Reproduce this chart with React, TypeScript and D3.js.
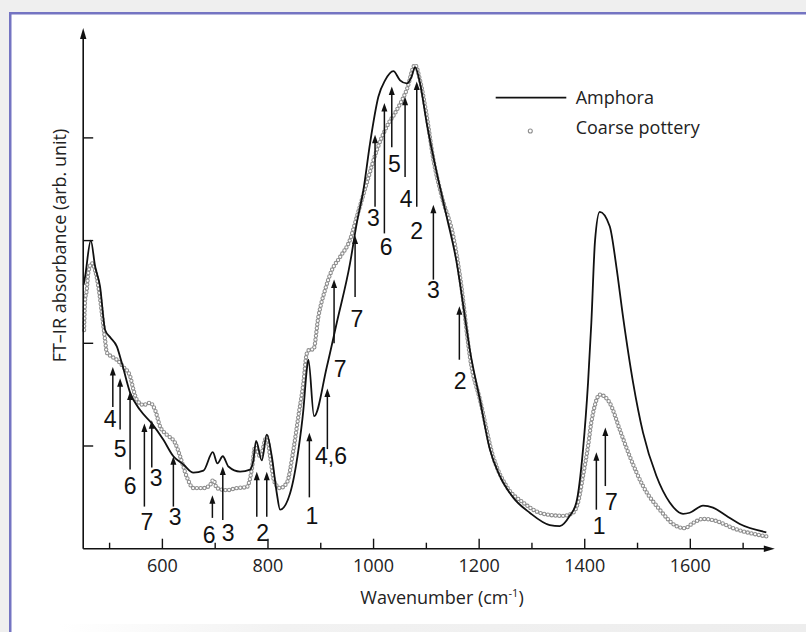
import * as d3 from "d3";

// FT-IR spectra (wavenumber in cm-1, absorbance in arb. units)
const amphoraWavenumber = [
  450.8, 453.6, 464.4, 472.5, 482.0, 491.5, 500.9, 513.6, 523.1, 538.8, 557.8, 579.9, 601.9, 620.8,
  639.8, 658.7, 677.7, 695.5, 704.2, 714.4, 725.0, 747.2, 766.1, 772.3, 777.5, 788.3, 797.7, 807.2,
  816.7, 822.9, 841.9, 857.6, 867.0, 873.5, 876.5, 887.3, 911.4, 930.3, 955.5, 968.2, 980.7, 993.4,
  1009.1, 1021.8, 1037.5, 1050.2, 1062.9, 1072.3, 1078.6, 1088.1, 1100.8, 1119.7, 1138.6, 1157.6,
  1163.8, 1172.7, 1182.2, 1201.1, 1220.1, 1239.0, 1264.2, 1295.8, 1333.7, 1352.7, 1371.6, 1384.1,
  1396.8, 1406.3, 1412.5, 1419.5, 1428.4, 1447.3, 1459.8, 1472.5, 1491.5, 1510.4, 1535.6, 1561.0,
  1586.2, 1598.9, 1624.1, 1643.0, 1668.2, 1693.6, 1743.9,
];
const amphoraAbsorbance = [
  2.57, 2.65, 3.0, 2.75, 2.55, 2.13, 2.06, 1.97, 1.81, 1.52, 1.35, 1.22, 1.06, 0.9,
  0.82, 0.74, 0.76, 0.94, 0.83, 0.9, 0.8, 0.75, 0.77, 0.86, 1.05, 0.86, 1.11, 0.9,
  0.54, 0.38, 0.54, 0.96, 1.35, 1.74, 1.84, 1.29, 1.77, 2.2, 2.78, 3.17, 3.49, 3.95,
  4.4, 4.56, 4.65, 4.56, 4.53, 4.6, 4.69, 4.53, 4.14, 3.66, 3.23, 2.78,
  2.58, 2.27, 1.94, 1.46, 0.97, 0.71, 0.5, 0.35, 0.23, 0.22, 0.32, 0.45,
  0.97, 1.62, 2.2, 3.0, 3.28, 3.14, 2.75, 2.26, 1.62, 1.13, 0.71, 0.45,
  0.34, 0.35, 0.42, 0.4, 0.32, 0.24, 0.16,
];

const coarseWavenumber = [
  451.7, 453.6, 456.8, 459.8, 466.3, 472.5, 478.8, 485.2, 491.5, 494.7, 504.2, 513.6, 526.1, 538.8,
  545.1, 551.5, 564.0, 576.7, 586.2, 595.6, 608.3, 624.1, 633.5, 646.2, 658.7, 677.7, 690.3, 696.6,
  703.0, 722.0, 740.9, 759.8, 769.3, 775.6, 785.0, 797.7, 804.0, 811.6, 822.9, 835.6, 848.1, 857.6,
  867.0, 873.5, 879.7, 886.0, 895.5, 908.1, 920.8, 936.6, 955.5, 968.2, 987.1, 1006.1, 1025.0,
  1043.9, 1062.9, 1078.6, 1088.1, 1100.8, 1113.3, 1129.2, 1151.1, 1163.8, 1185.2, 1201.1, 1226.3,
  1251.5, 1283.1, 1321.0, 1358.9, 1377.8, 1387.3, 1396.8, 1406.3, 1412.5, 1418.9, 1428.4, 1447.3,
  1466.3, 1485.2, 1510.4, 1542.0, 1573.5, 1589.4, 1605.1, 1624.1, 1649.2, 1680.9, 1743.9,
];
const coarseAbsorbance = [
  2.13, 2.42, 2.52, 2.69, 2.78, 2.71, 2.55, 2.3, 2.03, 1.91, 1.87, 1.84, 1.77, 1.68,
  1.55, 1.45, 1.4, 1.42, 1.35, 1.19, 1.11, 1.03, 0.9, 0.7, 0.59, 0.59, 0.62, 0.67,
  0.59, 0.57, 0.59, 0.6, 0.77, 0.99, 0.9, 1.09, 0.9, 0.66, 0.59, 0.64, 0.96, 1.29,
  1.61, 1.9, 1.94, 1.94, 2.26, 2.52, 2.71, 2.84, 3.01, 3.23, 3.56, 3.88, 4.11,
  4.27, 4.47, 4.71, 4.56, 4.21, 3.79, 3.43, 3.04, 2.65, 1.78, 1.46, 0.9,
  0.61, 0.45, 0.34, 0.32, 0.35, 0.45, 0.71, 1.0, 1.23, 1.39, 1.5, 1.42,
  1.16, 0.9, 0.61, 0.38, 0.22, 0.2, 0.25, 0.29, 0.27, 0.2, 0.12,
];

const xMajorTicks = [600, 800, 1000, 1200, 1400, 1600];
const xMinorTicks = [500, 700, 900, 1100, 1300, 1500, 1700];
const yTicks = [1, 2, 3, 4];

// band assignment arrows
const bandLabels = ["4", "5", "6", "7", "3", "3", "6", "3", "", "2", "1", "4,6", "7", "7", "3", "6", "5", "4", "2", "3", "2", "1", "7"];
const bandWavenumber = [506.1, 519.9, 538.8, 565.9, 579.9, 620.8, 694.7, 714.4, 778.8, 797.7, 878.4, 912.5, 925.2, 965.0, 1002.8, 1020.5, 1034.5, 1059.7, 1081.8, 1113.3, 1162.5, 1422.0, 1439.0];
const bandTop = [1.77, 1.66, 1.53, 1.22, 1.25, 0.9, 0.52, 0.8, 0.75, 0.75, 1.13, 1.56, 2.62, 3.05, 4.03, 4.34, 4.5, 4.4, 4.55, 3.35, 2.36, 0.94, 1.18];
const bandBottom = [1.38, 1.16, 0.77, 0.41, 0.79, 0.41, 0.3, 0.28, 0.31, 0.31, 0.5, 0.97, 2.0, 2.45, 3.33, 3.07, 3.91, 3.62, 3.33, 2.62, 1.84, 0.38, 0.61];
const bandLabelWavenumber = [500.9, 519.9, 538.8, 570.5, 588.1, 624.1, 688.4, 724.4, 0, 789.8, 883.0, 919.5, 936.6, 968.2, 999.6, 1023.7, 1039.4, 1061.6, 1081.8, 1113.3, 1163.8, 1427.1, 1450.4];
const bandLabelLevel = [1.27, 0.97, 0.61, 0.26, 0.69, 0.31, 0.14, 0.16, 0, 0.16, 0.32, 0.91, 1.75, 2.24, 3.22, 2.94, 3.75, 3.41, 3.1, 2.52, 1.64, 0.22, 0.46];

const W = 806;
const H = 632;

export default function App() {
  const x = d3.scaleLinear().domain([450, 1760]).range([83.2, 774.8]);
  const y = d3.scaleLinear().domain([0, 5.07]).range([548.7, 28]);
  const y0 = y(0);
  const x0 = x(450);

  const amphoraPath = d3
    .line<number>()
    .x((_, i) => x(amphoraWavenumber[i]))
    .y((_, i) => y(amphoraAbsorbance[i]))
    .curve(d3.curveMonotoneX)(amphoraWavenumber) as string;

  const coarsePath = d3
    .line<number>()
    .x((_, i) => x(coarseWavenumber[i]))
    .y((_, i) => y(coarseAbsorbance[i]))
    .curve(d3.curveMonotoneX)(coarseWavenumber) as string;

  const sans = "'Open Sans', 'Noto Sans', sans-serif";
  const helv = "'Liberation Sans', Arial, sans-serif";
  const ringGray = "#8e8e8e";

  return (
    <svg width={W} height={H} style={{ position: "absolute", left: 0, top: 0 }}>
      <defs>
        <linearGradient id="shade" x1="0" x2="1" y1="0" y2="0">
          <stop offset="0" stopColor="#ffffff" />
          <stop offset="0.3" stopColor="#f2f2f2" />
          <stop offset="1" stopColor="#ededed" />
        </linearGradient>
      </defs>
      {/* page background and frame */}
      <rect x={0} y={0} width={W} height={H} fill="#efefef" />
      <rect x={10} y={13} width={W - 10} height={H - 13} fill="#ffffff" />
      <rect x={60} y={624} width={W - 60} height={8} fill="url(#shade)" />
      <rect x={9} y={12} width={W - 9} height={2.5} fill="#7474c2" />
      <rect x={9} y={12} width={2.5} height={H - 12} fill="#7474c2" />

      {/* coarse pottery: hollow circles */}
      <path d={coarsePath} fill="none" stroke={ringGray} strokeWidth={4.4} strokeDasharray="0 3.8" strokeLinecap="round" />
      <path d={coarsePath} fill="none" stroke="#ffffff" strokeWidth={2.3} strokeDasharray="0 3.8" strokeLinecap="round" />

      {/* amphora: solid line */}
      <path d={amphoraPath} fill="none" stroke="#111" strokeWidth={1.8} strokeLinejoin="round" />

      {/* axes */}
      <line x1={x0} x2={x0} y1={y0} y2={y(5.07) + 6} stroke="#111" strokeWidth={1.6} />
      <path d={`M${x0},${y(5.07)} L${x0 - 3.2},${y(5.07) + 11} L${x0 + 3.2},${y(5.07) + 11} Z`} fill="#111" />
      <line x1={x0} x2={x(1760) - 6} y1={y0} y2={y0} stroke="#111" strokeWidth={1.6} />
      <path d={`M${x(1760)},${y0} L${x(1760) - 11},${y0 - 3.2} L${x(1760) - 11},${y0 + 3.2} Z`} fill="#111" />
      {xMajorTicks.map((t) => (
        <g key={t}>
          <line x1={x(t)} x2={x(t)} y1={y0} y2={y0 - 10} stroke="#111" strokeWidth={1.4} />
          <text x={x(t)} y={y0 + 23} textAnchor="middle" fontFamily={sans} fontSize={18} fill="#222">
            {t}
          </text>
        </g>
      ))}
      {xMinorTicks.map((t) => (
        <line key={t} x1={x(t)} x2={x(t)} y1={y0} y2={y0 - 6} stroke="#111" strokeWidth={1.4} />
      ))}
      {yTicks.map((t) => (
        <line key={t} x1={x0} x2={x0 + 10} y1={y(t)} y2={y(t)} stroke="#111" strokeWidth={1.4} />
      ))}

      <text x={442} y={604} textAnchor="middle" fontFamily={sans} fontSize={18} fill="#222">
        Wavenumber (cm
        <tspan fontSize={11} dy={-7}>-1</tspan>
        <tspan dy={7}>)</tspan>
      </text>
      <text
        transform="translate(66,245.5) rotate(-90)"
        textAnchor="middle"
        fontFamily={sans}
        fontSize={18}
        fill="#222"
      >
        FT–IR absorbance (arb. unit)
      </text>

      {/* band arrows */}
      {bandWavenumber.map((w, i) => {
        const bx = x(w);
        const top = y(bandTop[i]);
        return (
          <g key={i}>
            <line x1={bx} x2={bx} y1={y(bandBottom[i])} y2={top + 5} stroke="#111" strokeWidth={1.5} />
            <path d={`M${bx},${top} L${bx - 3},${top + 8.5} L${bx + 3},${top + 8.5} Z`} fill="#111" />
            {bandLabels[i] && (
              <text
                x={x(bandLabelWavenumber[i])}
                y={y(bandLabelLevel[i])}
                dy="0.36em"
                textAnchor="middle"
                fontFamily={helv}
                fontSize={23}
                fill="#111"
              >
                {bandLabels[i]}
              </text>
            )}
          </g>
        );
      })}

      {/* legend */}
      <line x1={495.7} x2={566.3} y1={97.7} y2={97.7} stroke="#111" strokeWidth={1.8} />
      <text x={575.7} y={103.6} fontFamily={sans} fontSize={18} fill="#222">
        Amphora
      </text>
      <circle cx={530.3} cy={131} r={2} fill="none" stroke={ringGray} strokeWidth={1.1} />
      <text x={575.7} y={133.6} fontFamily={sans} fontSize={18} fill="#222">
        Coarse pottery
      </text>
    </svg>
  );
}
